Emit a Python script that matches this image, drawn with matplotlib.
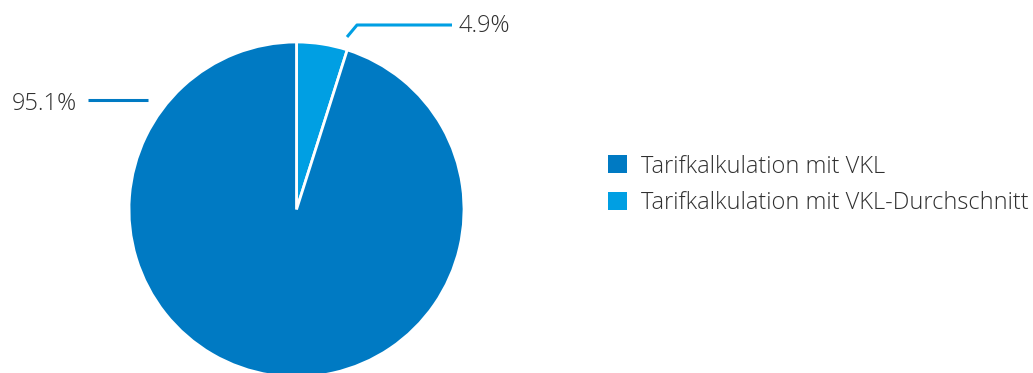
import matplotlib
matplotlib.use("Agg")
import matplotlib.pyplot as plt
from matplotlib.patches import Patch

plt.rcParams["font.family"] = ["Open Sans", "DejaVu Sans"]

# --- data ---
categories = ["Tarifkalkulation mit VKL-Durchschnitt", "Tarifkalkulation mit VKL"]
shares = [4.9, 95.1]
colors = ["#009fe3", "#007ac3"]
legend_order = [1, 0]

W, H = 1033, 373
fig = plt.figure(figsize=(W / 100, H / 100), dpi=100)

# pie axes: centre (296.5, 209.5) px from top, radius 167.5 px
cx, cy, r = 296.5, H - 209.5, 167.5
ax = fig.add_axes([(cx - r) / W, (cy - r) / H, 2 * r / W, 2 * r / H])
wedges, _ = ax.pie(shares, colors=colors, startangle=90, counterclock=False,
                   radius=1.0, wedgeprops=dict(edgecolor="white", linewidth=2))
for w in wedges:
    w.set_clip_on(False)
ax.set_xlim(-1, 1)
ax.set_ylim(-1, 1)
ax.set_aspect("equal")
ax.axis("off")

# leader lines and value labels (figure pixel coords)
def px(x, y):
    return x / W, (H - y) / H

line_kw = dict(transform=fig.transFigure, lw=2.2, solid_capstyle="butt")
fig.add_artist(plt.Line2D(*zip(px(347, 37), px(357, 25), px(452, 25)),
                          color=colors[0], **line_kw))
fig.add_artist(plt.Line2D(*zip(px(88, 100), px(148, 100)),
                          color=colors[1], **line_kw))
txt_kw = dict(va="center", fontsize=17, color="#303030", fontweight="light")
fig.text(*px(459, 26), f"{shares[0]:.1f}%", ha="left", **txt_kw)
fig.text(*px(77, 104), f"{shares[1]:.1f}%", ha="right", **txt_kw)

handles = [Patch(facecolor=colors[i], edgecolor="none") for i in legend_order]
labels = [categories[i] for i in legend_order]
leg = fig.legend(handles, labels, loc="center left", bbox_to_anchor=px(608, 185),
                 frameon=False, fontsize=17, handlelength=0.81, handleheight=0.81,
                 handletextpad=0.58, labelspacing=0.55, borderpad=0,
                 borderaxespad=0, labelcolor="#303030")
for t in leg.get_texts():
    t.set_fontweight("light")

fig.savefig("out.png", dpi=100)
